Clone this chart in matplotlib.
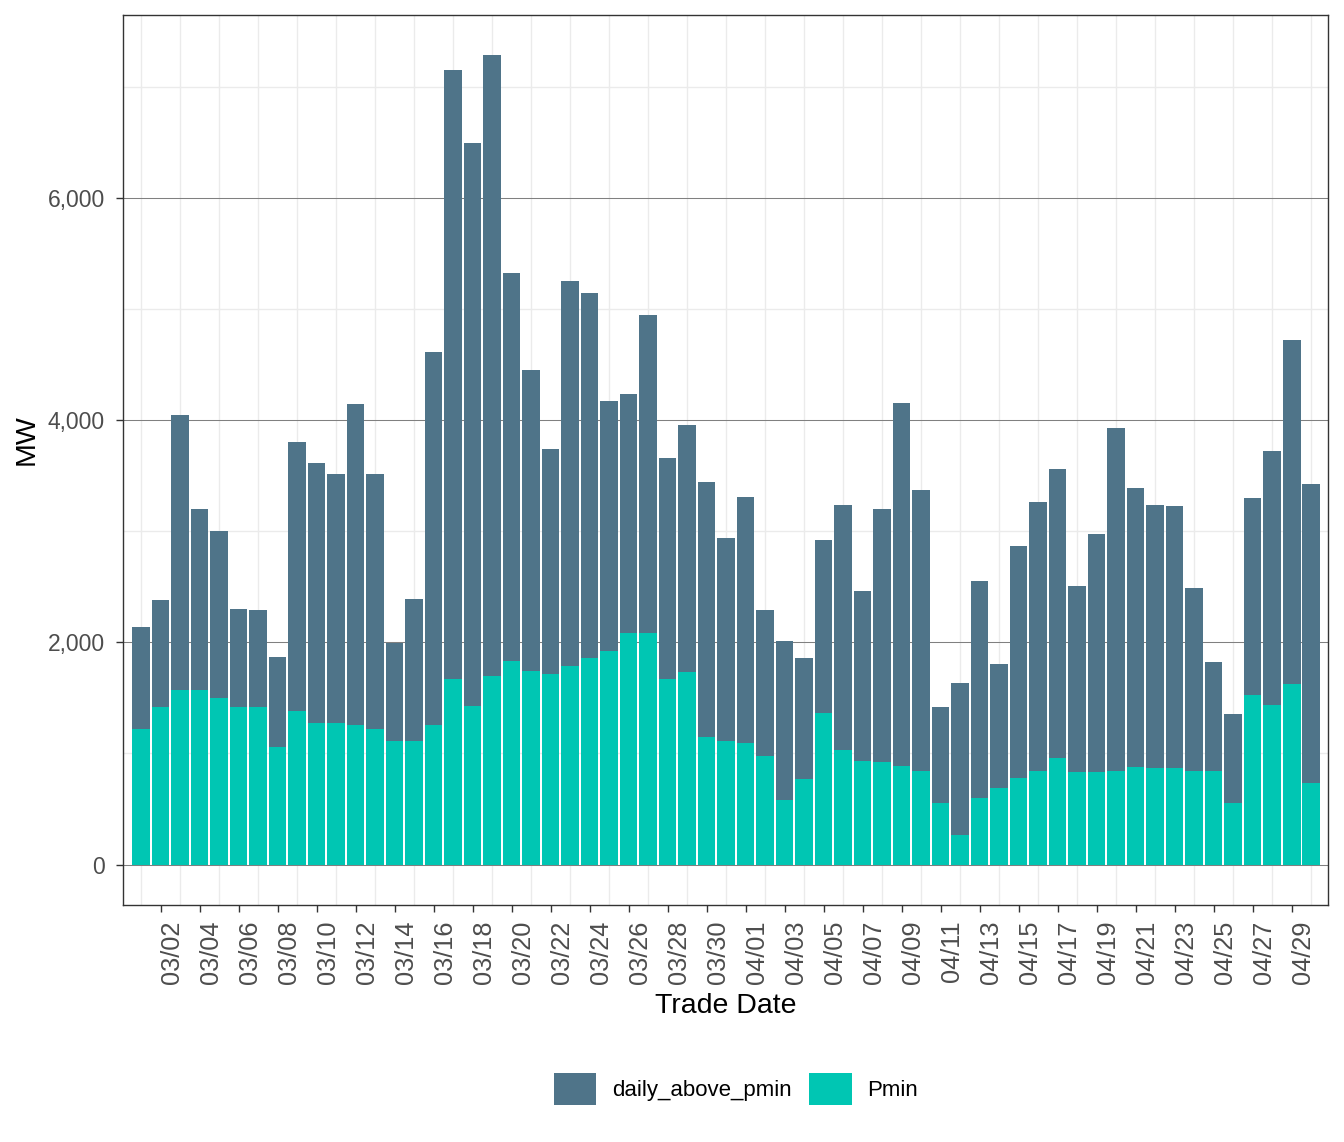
import numpy as np
import pandas as pd
import matplotlib
matplotlib.use('Agg')
import matplotlib.pyplot as plt
import matplotlib.dates as mdates
import matplotlib.transforms as mtransforms
from matplotlib.patches import Patch

plt.rcParams['font.family'] = ['Liberation Sans', 'DejaVu Sans']

trade_dates = pd.date_range('2024-03-01', '2024-04-30', freq='D')

pmin = [1222, 1420, 1573, 1573, 1501, 1420, 1420, 1061, 1384, 1276,
        1276, 1258, 1222, 1114, 1114, 1258, 1672, 1431, 1701, 1835,
        1744, 1711, 1789, 1861, 1924, 2085, 2085, 1672, 1735, 1151,
        1112,
        1093, 980, 584, 773, 1366, 1034, 935, 926, 890, 845,
        557, 270, 602, 692, 782, 845, 963, 836, 836, 845,
        881, 872, 872, 845, 845, 558, 1528, 1438, 1627, 738]

daily_above_pmin = [917, 962, 2472, 1627, 1501, 881, 872, 809, 2418, 2337,
                    2238, 2886, 2292, 881, 1277, 3356, 5474, 5060, 5580, 3486,
                    2705, 2031, 3460, 3282, 2247, 2149, 2861, 1988, 2220, 2292,
                    1827,
                    2215, 1312, 1429, 1088, 1555, 2202, 1528, 2274, 3263, 2526,
                    863, 1366, 1951, 1115, 2085, 2418, 2597, 1672, 2139, 3084,
                    2508, 2364, 2355, 1646, 980, 799, 1771, 2283, 3092, 2687]

series_names = ['daily_above_pmin', 'Pmin']
series_colors = ['#4f7489', '#00c6b3']


def main():
    fig = plt.figure(figsize=(13.44, 11.42), dpi=100)
    W, H = 1344, 1142
    left, right, top, bottom = 123, 1328, 15, 905
    ax = fig.add_axes([left / W, 1 - bottom / H, (right - left) / W, (bottom - top) / H])

    width = pd.Timedelta(hours=0.9 * 24)
    ax.bar(trade_dates, pmin, width=width, color=series_colors[1], zorder=3)
    ax.bar(trade_dates, daily_above_pmin, bottom=pmin, width=width,
           color=series_colors[0], zorder=3)

    ax.set_xlim(trade_dates[0] - pd.Timedelta(hours=0.93 * 24),
                trade_dates[-1] + pd.Timedelta(hours=0.86 * 24))
    total = np.array(pmin) + np.array(daily_above_pmin)
    ymax = total.max()
    ax.set_ylim(-0.05 * ymax, 1.05 * ymax)

    # grid
    for y in [1000, 3000, 5000, 7000]:
        ax.axhline(y, color='#ebebeb', lw=1.0, zorder=1)
    for d in trade_dates[::2]:
        ax.axvline(d, color='#ebebeb', lw=1.0, zorder=1)
    for y in [0, 2000, 4000, 6000]:
        ax.axhline(y, color='#808080', lw=0.75, zorder=2)

    ax.set_xticks(list(trade_dates[1::2]))
    ax.xaxis.set_major_formatter(mdates.DateFormatter('%m/%d'))
    ax.set_yticks([0, 2000, 4000, 6000])
    ax.yaxis.set_major_formatter(matplotlib.ticker.FuncFormatter(lambda v, p: f'{int(v):,}'))

    ax.tick_params(axis='both', length=5, width=1.0, color='#333333',
                   labelcolor='#4d4d4d')
    ax.tick_params(axis='x', labelrotation=90, pad=6, labelsize=18.3)
    ax.tick_params(axis='y', pad=8, labelsize=16.5)
    shift = mtransforms.ScaledTranslation(11 / 100, 0, fig.dpi_scale_trans)
    for lab in ax.get_xticklabels():
        lab.set_va('top')
        lab.set_ha('center')
        lab.set_transform(lab.get_transform() + shift)

    for sp in ax.spines.values():
        sp.set_color('#333333')
        sp.set_linewidth(1.0)

    fig.text(27 / W, 1 - 440 / H, 'MW', rotation=90, ha='center', va='center',
             fontsize=20.5, color='black')
    fig.text(726 / W, 1 - 1006 / H, 'Trade Date', ha='center', va='center',
             fontsize=20.5, color='black')

    handles = [Patch(facecolor=c, edgecolor='none') for c in series_colors]
    fig.legend(handles, series_names, loc='center', bbox_to_anchor=(736 / W, 1 - 1089 / H),
               ncol=2, frameon=False, fontsize=16, handlelength=1.9, handleheight=1.9,
               handletextpad=0.7, columnspacing=0.8)

    fig.savefig('out.png', dpi=100)


if __name__ == '__main__':
    main()
